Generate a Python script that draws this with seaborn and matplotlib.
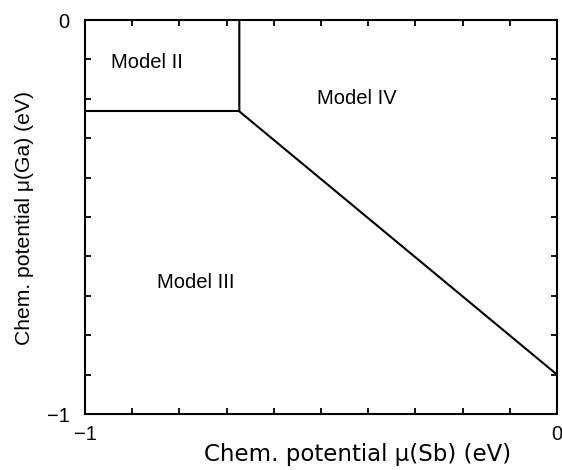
import numpy as np
import pandas as pd
import matplotlib
matplotlib.use("Agg")
import matplotlib.pyplot as plt
import seaborn as sns

# Phase-boundary vertices (chemical potentials in eV)
seg_id = [0, 0, 1, 1, 1]
mu_sb = [-1.0, -0.673, -0.673, -0.673, 0.0]
mu_ga = [-0.232, -0.232, 0.0, -0.232, -0.9]

region_labels = ["Model II", "Model IV", "Model III"]
region_sb = [-0.869, -0.424, -0.765]
region_ga = [-0.109, -0.198, -0.665]

x_label = "Chem. potential \u03bc(Sb) (eV)"
y_label = "Chem. potential \u03bc(Ga) (eV)"

sns.set_style("white")
plt.rcParams["font.family"] = ["Liberation Sans", "DejaVu Sans"]
plt.rcParams["text.color"] = "black"
plt.rcParams["axes.labelcolor"] = "black"

fig = plt.figure(figsize=(5.62, 4.70), dpi=100)
ax = fig.add_axes([85 / 562, 1 - 414 / 470, 472 / 562, 394 / 470])

df = pd.DataFrame({"seg": seg_id, "sb": mu_sb, "ga": mu_ga})
sns.lineplot(data=df, x="sb", y="ga", units="seg", estimator=None, sort=False,
             color="black", linewidth=1.5, ax=ax)

for lab, xs, ys in zip(region_labels, region_sb, region_ga):
    ax.text(xs, ys, lab, ha="center", va="center", fontsize=14.5, color="black")

ax.set_xlim(-1, 0)
ax.set_ylim(-1, 0)
ticks = np.round(np.arange(-1, 0.001, 0.1), 1)
lbls = ["\u22121" if abs(t + 1) < 1e-9 else ("0" if abs(t) < 1e-9 else "") for t in ticks]
ax.set_xticks(ticks)
ax.set_xticklabels(lbls)
ax.set_yticks(ticks)
ax.set_yticklabels(lbls)
ax.tick_params(direction="in", length=4, width=1.3, top=True, right=True,
               bottom=True, left=True, labelsize=14.5, colors="black")
ax.tick_params(axis="x", pad=8)
ax.tick_params(axis="y", pad=11)
for s in ax.spines.values():
    s.set_linewidth(1.5)
    s.set_color("black")

ax.set_xlabel(x_label, fontsize=16.5, family=["DejaVu Sans"])
ax.set_ylabel(y_label, fontsize=15.2)
ax.xaxis.set_label_coords((357.5 - 85) / 472, -(455 - 414) / 394)
ax.yaxis.set_label_coords(-(85 - 25) / 472, (414 - 217.5) / 394)
ax.xaxis.label.set_va("center")
ax.yaxis.label.set_va("center")

fig.savefig("out.png", dpi=100, facecolor="white")
